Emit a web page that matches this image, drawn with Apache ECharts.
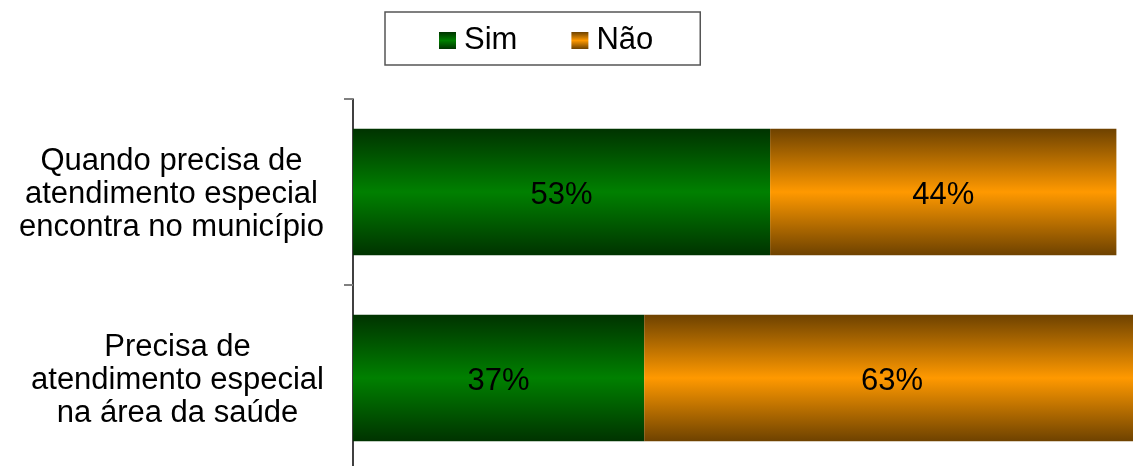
<!DOCTYPE html>
<html>
<head>
<meta charset="utf-8">
<script src="https://cdn.jsdelivr.net/npm/echarts@6/dist/echarts.min.js"></script>
<style>html,body{margin:0;padding:0;background:#fff;overflow:hidden}#c{width:1140px;height:471px}</style>
</head>
<body>
<div id="c"></div>
<script>
const categories = [
  ['Quando precisa de', 'atendimento especial', 'encontra no município'],
  ['Precisa de', 'atendimento especial', 'na área da saúde']
];
const seriesNames = ['Sim', 'Não'];
const simValues = [53, 37];
const naoValues = [44, 63];

const FONT = '"Liberation Sans", Arial, sans-serif';
function grad(dark, bright) {
  return new echarts.graphic.LinearGradient(0, 0, 0, 1, [
    { offset: 0, color: dark },
    { offset: 0.5, color: bright },
    { offset: 1, color: dark }
  ]);
}
const chart = echarts.init(document.getElementById('c'), null, { renderer: 'canvas' });
chart.setOption({
  animation: false,
  textStyle: { fontFamily: FONT },
  legend: {
    data: seriesNames,
    icon: 'rect',
    left: 385,
    top: 12,
    padding: [13, 47, 9, 54],
    itemWidth: 17,
    itemHeight: 17,
    itemGap: 54,
    borderColor: '#555',
    borderWidth: 1.5,
    textStyle: { fontSize: 31, color: '#000', fontFamily: FONT, padding: [0, 0, 0, 3] }
  },
  grid: { left: 353, top: 99, right: 0, bottom: 0, containLabel: false, outerBoundsMode: 'none' },
  xAxis: { type: 'value', min: 0, max: 100, show: false },
  yAxis: {
    type: 'category',
    inverse: true,
    data: categories.map(c => c.join('\n')),
    axisLine: { lineStyle: { color: '#000', width: 1.5 } },
    axisTick: { show: true, length: 9, lineStyle: { color: '#808080', width: 2 } },
    axisLabel: {
      margin: 29,
      align: 'right',
      fontSize: 31,
      lineHeight: 33,
      padding: [4, 0, 0, 0],
      color: '#000',
      fontFamily: FONT,
      formatter: function (v) {
        return v.split('\n').map(l => '{c|' + l + '}').join('\n');
      },
      rich: { c: { align: 'center', fontSize: 31, lineHeight: 33, color: '#000', fontFamily: FONT } }
    },
    splitLine: { show: false }
  },
  series: [
    {
      name: seriesNames[0], type: 'bar', stack: 'a', data: simValues,
      barCategoryGap: '32%',
      itemStyle: { color: grad('#003300', '#008000') },
      label: { show: true, position: 'inside', formatter: '{c}%', fontSize: 31, color: '#000', fontFamily: FONT, offset: [0, 3] }
    },
    {
      name: seriesNames[1], type: 'bar', stack: 'a', data: naoValues,
      barCategoryGap: '32%',
      itemStyle: { color: grad('#6E4200', '#FF9900') },
      label: { show: true, position: 'inside', formatter: '{c}%', fontSize: 31, color: '#000', fontFamily: FONT, offset: [0, 3] }
    }
  ]
});
</script>
</body>
</html>
